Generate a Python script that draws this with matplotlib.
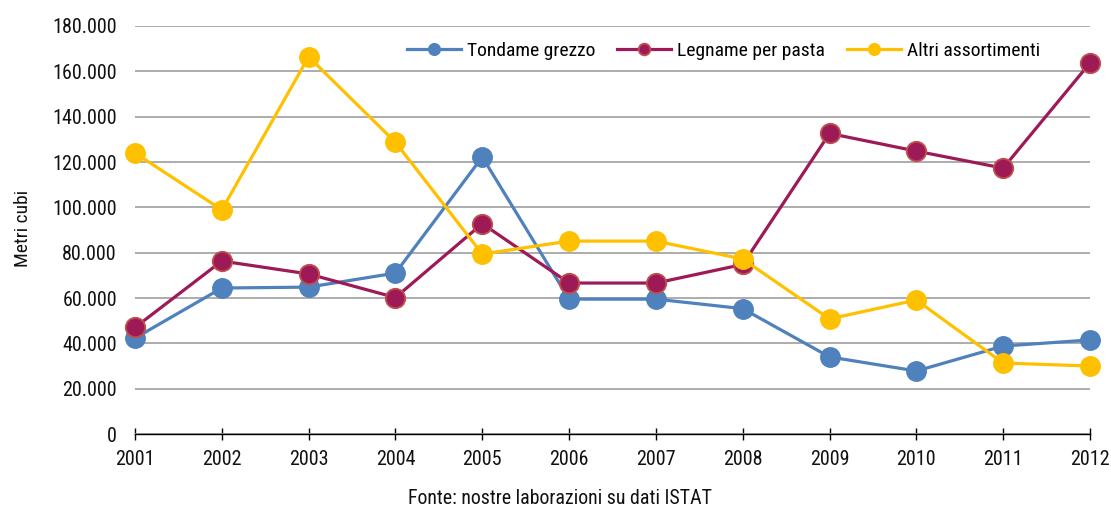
import matplotlib
matplotlib.use("Agg")
import matplotlib.pyplot as plt

plt.rcParams['font.family'] = ['Roboto Condensed', 'Liberation Sans', 'DejaVu Sans']

# ── Data ───────────────────────────────────────────────────────
years = [2001, 2002, 2003, 2004, 2005, 2006, 2007, 2008, 2009, 2010, 2011, 2012]
tondame = [42300, 64400, 64800, 71000, 122200, 59500, 59500, 55300, 34000, 27800, 38800, 41500]
legname = [47000, 76300, 70600, 60200, 92800, 66600, 66600, 74800, 132600, 124800, 117300, 163700]
altri = [124000, 98900, 166400, 128700, 79400, 85100, 85100, 77200, 50800, 59100, 31300, 30000]
yticks = [0, 20000, 40000, 60000, 80000, 100000, 120000, 140000, 160000, 180000]
ytick_labels = ['0', '20.000', '40.000', '60.000', '80.000', '100.000',
                '120.000', '140.000', '160.000', '180.000']

BLUE = '#4f81bd'
MAROON = '#9e1a57'
MAROON_EDGE = '#c0504d'
YELLOW = '#ffc000'
TXT = '#111111'

fig = plt.figure(figsize=(11.11, 5.07), dpi=100)
ax = fig.add_axes([135/1111, 1 - 434/507, (1090 - 135)/1111, (434 - 26)/507])

ax.plot(years, tondame, color=BLUE, lw=2.3, marker='o', ms=14,
        mfc=BLUE, mec=BLUE, label='Tondame grezzo', clip_on=False, zorder=3)
ax.plot(years, legname, color=MAROON, lw=2.3, marker='o', ms=14,
        mfc=MAROON, mec=MAROON_EDGE, mew=1.3, label='Legname per pasta',
        clip_on=False, zorder=4)
ax.plot(years, altri, color=YELLOW, lw=2.3, marker='o', ms=14,
        mfc=YELLOW, mec=YELLOW, label='Altri assortimenti', clip_on=False, zorder=5)

ax.set_xlim(2001, 2012)
ax.set_ylim(0, 180000)
ax.set_xticks(years)
ax.set_xticklabels([str(y) for y in years])
ax.set_yticks(yticks)
ax.set_yticklabels(ytick_labels)

ax.yaxis.grid(True, color='#a6a6a6', lw=1.3)
ax.set_axisbelow(True)
for s in ['top', 'right', 'left']:
    ax.spines[s].set_visible(False)
ax.spines['bottom'].set_color('black')
ax.spines['bottom'].set_linewidth(1.0)
ax.spines['bottom'].set_zorder(2)

ax.tick_params(axis='y', length=0, pad=13, labelsize=14.5, labelcolor=TXT)
ax.tick_params(axis='x', direction='inout', length=9, width=1, pad=7,
               labelsize=14.5, labelcolor=TXT)

ax.set_ylabel('Metri cubi', fontsize=14, color=TXT)
ax.yaxis.set_label_coords(-0.108, 0.505)

leg = ax.legend(loc='center left', bbox_to_anchor=(407/1111, 1 - 51/507),
                bbox_transform=fig.transFigure, ncol=3, frameon=False,
                fontsize=14, handlelength=2.8, markerscale=0.6,
                columnspacing=1.1, handletextpad=0.3, borderpad=0,
                borderaxespad=0)

fig.text(560/1111, 1 - 499/507, 'Fonte: nostre laborazioni su dati ISTAT',
         ha='center', va='center', fontsize=14.3, color=TXT)

fig.savefig('out.png', dpi=100, facecolor='white')
